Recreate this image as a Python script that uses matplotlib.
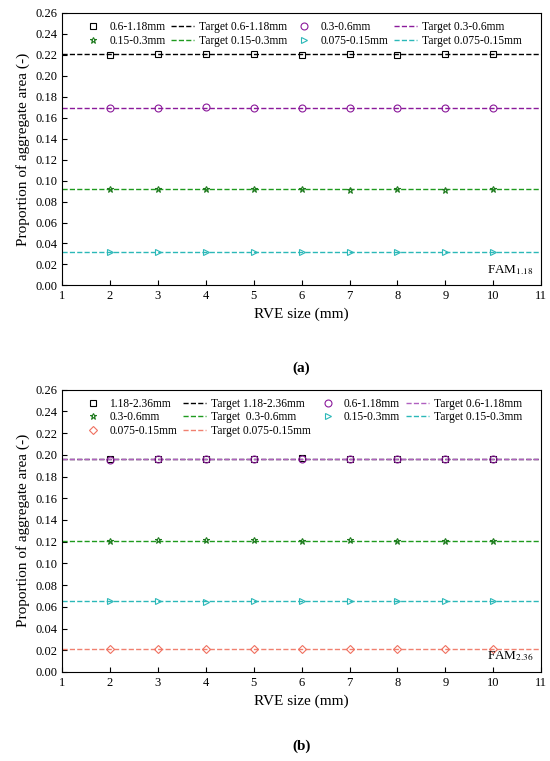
import numpy as np
import matplotlib.pyplot as plt

plt.rcParams['font.family'] = ['Liberation Serif', 'DejaVu Serif']
plt.rcParams['mathtext.fontset'] = 'stix'

sizes = [2, 3, 4, 5, 6, 7, 8, 9, 10]

# panel (a) FAM 1.18
a_labels = ['0.6-1.18mm', '0.3-0.6mm', '0.15-0.3mm', '0.075-0.15mm']
a_targets = [0.2205, 0.1695, 0.0915, 0.0318]
a_values = [
    [0.2203, 0.2212, 0.2210, 0.2205, 0.2203, 0.2210, 0.2203, 0.2205, 0.2210],
    [0.1695, 0.1697, 0.1699, 0.1697, 0.1695, 0.1697, 0.1695, 0.1694, 0.1695],
    [0.0917, 0.0915, 0.0918, 0.0916, 0.0917, 0.0913, 0.0915, 0.0914, 0.0915],
    [0.0318, 0.0318, 0.0318, 0.0318, 0.0318, 0.0318, 0.0318, 0.0318, 0.0318],
]

# panel (b) FAM 2.36
b_labels = ['1.18-2.36mm', '0.6-1.18mm', '0.3-0.6mm', '0.15-0.3mm', '0.075-0.15mm']
b_target_labels = ['Target 1.18-2.36mm', 'Target 0.6-1.18mm', 'Target  0.3-0.6mm',
                   'Target 0.15-0.3mm', 'Target 0.075-0.15mm']
b_targets = [0.1963, 0.1963, 0.1210, 0.0650, 0.0215]
b_values = [
    [0.1965, 0.1960, 0.1963, 0.1965, 0.1967, 0.1960, 0.1962, 0.1965, 0.1963],
    [0.1955, 0.1958, 0.1960, 0.1962, 0.1963, 0.1960, 0.1958, 0.1962, 0.1960],
    [0.1210, 0.1212, 0.1215, 0.1213, 0.1210, 0.1212, 0.1210, 0.1208, 0.1210],
    [0.0650, 0.0650, 0.0648, 0.0650, 0.0650, 0.0650, 0.0650, 0.0650, 0.0650],
    [0.0215, 0.0215, 0.0215, 0.0215, 0.0215, 0.0215, 0.0215, 0.0215, 0.0215],
]

a_styles = [('s', 'black', 'black'), ('o', '#8b1a9b', '#8b1a9b'),
            ('*', '#1e7a1e', '#1e9a1e'), ('>', '#2bb8b8', '#2bb8b8')]
b_styles = [('s', 'black', 'black'), ('o', '#8b1a9b', '#b060c0'),
            ('*', '#1e7a1e', '#1e9a1e'), ('>', '#2bb8b8', '#2bb8b8'),
            ('D', '#f07060', '#f08070')]


def row_major(handles, ncol):
    # matplotlib fills legend columns first; reorder so it reads row by row
    nrows = -(-len(handles) // ncol)
    out = []
    for c in range(ncol):
        for r in range(nrows):
            i = r * ncol + c
            if i < len(handles):
                out.append(handles[i])
    return out


def draw(ax, labels, tlabels, targets, values, styles, fam):
    handles = []
    for lab, tl, t, v, (m, mc, lc) in zip(labels, tlabels, targets, values, styles):
        ms = 5 if m != 'D' else 4
        h1, = ax.plot(sizes, v, ls='none', marker=m, mfc='none', mec=mc,
                      ms=ms, mew=0.8, label=lab, zorder=3)
        h2, = ax.plot([1, 11], [t, t], ls='--', color=lc, lw=1, label=tl)
        handles += [h1, h2]
    ax.set_xlim(1, 11)
    ax.set_ylim(0, 0.26)
    ax.set_xticks(range(1, 12))
    ax.set_yticks(np.arange(0, 0.261, 0.02))
    ax.set_yticklabels([f'{y:.2f}' for y in np.arange(0, 0.261, 0.02)])
    ax.tick_params(direction='in', labelsize=9, top=False, right=False)
    ax.set_xlabel('RVE size (mm)', fontsize=11)
    ax.set_ylabel('Proportion of aggregate area (-)', fontsize=11)
    ax.legend(handles=row_major(handles, 4), ncol=4, loc='upper center',
              frameon=False, fontsize=8.3, handlelength=2.0, columnspacing=0.5,
              handletextpad=0.4, labelspacing=0.15, borderaxespad=0.3)
    ax.text(0.985, 0.03, fam, transform=ax.transAxes, ha='right', va='bottom', fontsize=9.5)


fig = plt.figure(figsize=(5.5, 7.61), dpi=100)
ax1 = fig.add_axes([0.113, 0.625, 0.871, 0.358])
ax2 = fig.add_axes([0.113, 0.117, 0.871, 0.371])

draw(ax1, a_labels, ['Target ' + l for l in a_labels], a_targets, a_values,
     a_styles, r'FAM$_{1.18}$')
draw(ax2, b_labels, b_target_labels, b_targets, b_values, b_styles,
     r'FAM$_{2.36}$')

fig.text(0.548, 0.512, '(a)', ha='center', fontsize=11, fontweight='bold')
fig.text(0.548, 0.015, '(b)', ha='center', fontsize=11, fontweight='bold')

fig.savefig('out.png', dpi=100)
